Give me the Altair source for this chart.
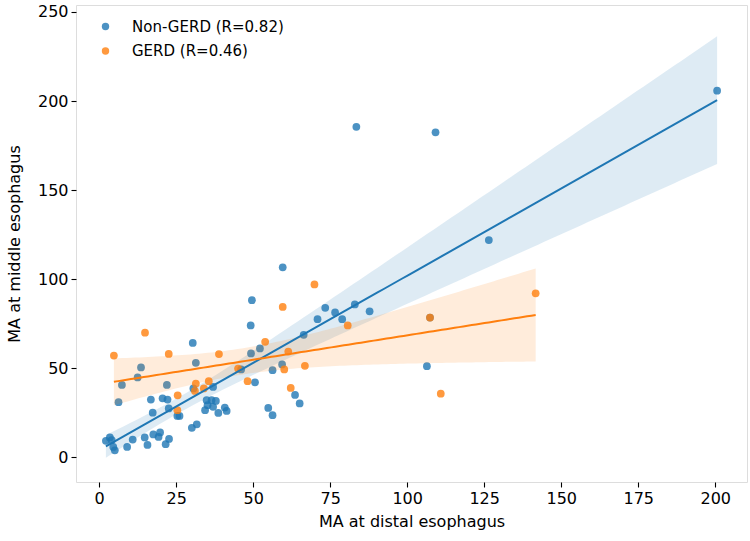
import altair as alt
import numpy as np
import pandas as pd

# ---------------- data ----------------
groups = ["Non-GERD (R=0.82)", "GERD (R=0.46)"]
colors = ["#1f77b4", "#ff7f0e"]

ng_x = [2.2, 3.5, 4.1, 4.6, 5.1, 9.1, 10.9, 14.8, 15.7, 17.6, 19.8, 19.3, 22.7, 21.6,
        6.3, 7.4, 12.5, 13.6, 16.8, 20.6, 22.2, 17.4, 22.6, 22.0, 25.4, 26.1, 30.1, 31.7,
        31.4, 30.4, 30.6,
        34.9, 36.5, 37.9, 35.2, 37.0, 34.4, 38.7, 40.8, 41.4, 37.0,
        49.6, 49.2, 49.3, 52.2, 46.1, 56.3, 50.6, 54.9, 56.3, 59.4, 63.6, 65.1, 59.6,
        73.4, 76.6, 70.9, 78.9, 83.0, 87.8, 66.4, 106.4, 107.4,
        83.5, 109.2, 126.5, 200.6]
ng_y = [9.2, 11.1, 9.6, 5.8, 3.9, 5.8, 9.9, 11.1, 6.9, 12.8, 13.9, 11.4, 10.3, 7.3,
        30.9, 40.6, 44.8, 50.4, 32.4, 33.1, 32.4, 25.0, 27.4, 40.6, 23.2, 23.2, 16.5, 18.5,
        53.0, 64.2, 38.6,
        32.0, 32.0, 31.6, 29.2, 28.3, 26.4, 24.9, 27.9, 26.0, 39.5,
        88.2, 74.0, 58.3, 61.1, 49.3, 48.9, 42.1, 27.7, 23.6, 52.1, 35.0, 30.2, 106.6,
        83.9, 81.3, 77.5, 77.5, 85.8, 81.9, 68.7, 51.1, 78.4,
        185.5, 182.4, 121.9, 205.8]

g_x = [4.8, 14.9, 22.6, 38.9, 53.9, 45.1, 48.2, 31.4, 35.6, 34.0, 31.1, 25.5, 25.4,
       59.6, 69.9, 80.7, 61.4, 60.1, 66.8, 62.2, 107.4, 110.9, 141.7]
g_y = [57.1, 69.9, 58.0, 57.9, 64.8, 49.8, 42.7, 41.4, 42.7, 38.6, 37.2, 34.8, 26.4,
       84.4, 97.0, 74.0, 59.3, 49.3, 51.3, 38.9, 78.4, 35.7, 92.0]

x_ticks = [0, 25, 50, 75, 100, 125, 150, 175, 200]
y_ticks = [0, 50, 100, 150, 200, 250]


def band(xv, yv, label):
    """OLS fit with a 95% (heteroscedasticity-robust, HC1) confidence band."""
    x = np.asarray(xv, float)
    y = np.asarray(yv, float)
    n = len(x)
    X = np.column_stack([np.ones(n), x])
    XtX_inv = np.linalg.inv(X.T @ X)
    beta = XtX_inv @ X.T @ y
    e = y - X @ beta
    w = e ** 2 * n / (n - 2)
    V = XtX_inv @ (X.T * w) @ X @ XtX_inv
    xs = np.linspace(x.min(), x.max(), 100)
    G = np.column_stack([np.ones_like(xs), xs])
    yhat = G @ beta
    se = np.sqrt(np.sum((G @ V) * G, axis=1))
    t = 1.96 + 2.4 / (n - 2)
    return pd.DataFrame({"x": xs, "lo": yhat - t * se, "hi": yhat + t * se,
                         "fit": yhat, "group": label})


pts_ng = pd.DataFrame({"x": ng_x, "y": ng_y, "group": groups[0]})
pts_g = pd.DataFrame({"x": g_x, "y": g_y, "group": groups[1]})
band_ng = band(ng_x, ng_y, groups[0])
band_g = band(g_x, g_y, groups[1])

FONT = "DejaVu Sans"
xscale = alt.Scale(domain=[-7.5, 210.3], nice=False, zero=False)
yscale = alt.Scale(domain=[-13.9, 253.9], nice=False, zero=False)

axis_common = dict(labelFont=FONT, labelFontSize=16, labelColor="black",
                   tickColor="black", tickSize=5, tickWidth=1.1, domain=False,
                   grid=False, titleFont=FONT, titleFontSize=16,
                   titleFontWeight="normal", titleColor="black", labelPadding=3)

X = alt.X("x:Q", scale=xscale,
          axis=alt.Axis(values=x_ticks, title="MA at distal esophagus",
                        titlePadding=7, **axis_common))
Y = alt.Y("y:Q", scale=yscale,
          axis=alt.Axis(values=y_ticks, title="MA at middle esophagus",
                        titlePadding=15, **axis_common))

color = alt.Color("group:N",
                  scale=alt.Scale(domain=groups, range=colors),
                  legend=alt.Legend(title=None, orient="none", legendX=22, legendY=14,
                                    symbolType="circle", symbolSize=55,
                                    symbolOpacity=0.8, symbolStrokeWidth=0,
                                    labelFont=FONT, labelFontSize=15,
                                    labelColor="black", labelOffset=19,
                                    rowPadding=8.5, padding=0))

def points(df):
    return alt.Chart(df).mark_circle(size=60, opacity=0.8, strokeWidth=0).encode(
        x=X, y=Y, color=color)

def area(df, c):
    return alt.Chart(df).mark_area(opacity=0.15, color=c, clip=True).encode(
        x=alt.X("x:Q", scale=xscale), y=alt.Y("lo:Q", scale=yscale), y2="hi:Q")

def line(df, c):
    return alt.Chart(df).mark_line(color=c, strokeWidth=2, clip=True).encode(
        x=alt.X("x:Q", scale=xscale), y=alt.Y("fit:Q", scale=yscale))

chart = alt.layer(
    points(pts_ng),
    area(band_ng, colors[0]),
    points(pts_g),
    area(band_g, colors[1]),
    line(band_ng, colors[0]),
    line(band_g, colors[1]),
).properties(
    width=671, height=477,
    padding={"left": 76, "top": 5, "right": 3, "bottom": 59},
    autosize=alt.AutoSizeParams(type="none"),
).configure_view(stroke="black", strokeWidth=1.1).configure(background="white")

chart.save("out.html", embed_options={"renderer": "svg", "actions": False})
